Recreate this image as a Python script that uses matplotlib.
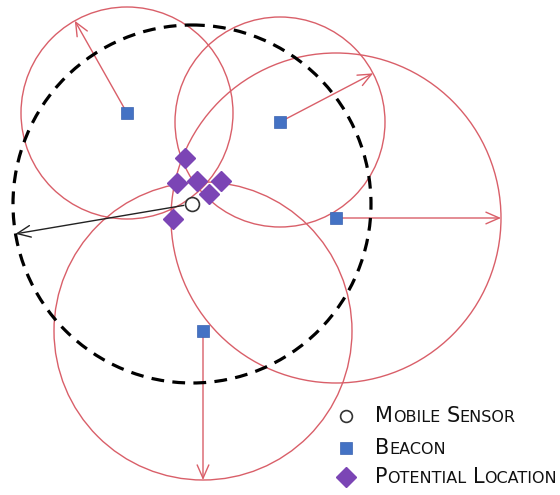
import numpy as np
import matplotlib
matplotlib.use("Agg")
import matplotlib.pyplot as plt
from matplotlib.patches import Circle
from matplotlib.offsetbox import TextArea, HPacker, AnnotationBbox

# beacons (pixel-like coords, y grows downward)
beacon_x = [127, 280, 336, 203]
beacon_y = [113, 122, 218, 331]
beacon_r = [106, 105, 165, 149]
beacon_arrow_deg = [-119.5, -27.6, 0, 90]

# mobile sensor and its estimated range
sensor_x, sensor_y = 192, 204
sensor_r = 179
sensor_arrow_deg = 170.4

# candidate positions
pot_x = [185, 177, 197, 221, 209, 173]
pot_y = [158, 183, 181, 181, 194, 219]

legend_labels = ["Mobile Sensor", "Beacon", "Potential Location"]

RED = "#d95f69"
BLUE = "#4472c4"
PURPLE = "#7b45b5"

fig = plt.figure(figsize=(5.6, 4.95), dpi=100)
ax = fig.add_axes([0, 0, 1, 1])
ax.set_xlim(0, 560)
ax.set_ylim(495, 0)
ax.set_aspect("equal")
ax.axis("off")

for x, y, r, a in zip(beacon_x, beacon_y, beacon_r, beacon_arrow_deg):
    ax.add_patch(Circle((x, y), r, fill=False, ec=RED, lw=1.0, zorder=1))
    t = np.radians(a)
    ax.annotate("", xy=(x + r * np.cos(t), y + r * np.sin(t)), xytext=(x, y),
                arrowprops=dict(arrowstyle="->,head_length=0.8,head_width=0.35",
                                color=RED, lw=1.0, mutation_scale=12,
                                shrinkA=0, shrinkB=0), zorder=2)

ax.add_patch(Circle((sensor_x, sensor_y), sensor_r, fill=False, ec="black",
                    lw=2.3, ls=(0, (4, 2.6)), zorder=3))
t = np.radians(sensor_arrow_deg)
ax.annotate("", xy=(sensor_x + sensor_r * np.cos(t), sensor_y + sensor_r * np.sin(t)),
            xytext=(sensor_x, sensor_y),
            arrowprops=dict(arrowstyle="->,head_length=0.8,head_width=0.35",
                            color="#222222", lw=1.0, mutation_scale=12,
                            shrinkA=6, shrinkB=0), zorder=4)

ax.plot(beacon_x, beacon_y, "s", color=BLUE, ms=9, mec="#3a63b0", mew=0.5,
        ls="none", zorder=5)
ax.plot(pot_x, pot_y, "D", color=PURPLE, ms=10, mec=PURPLE, ls="none", zorder=5)
ax.plot([sensor_x], [sensor_y], "o", mfc="white", mec="#333333", mew=1.2, ms=10,
        zorder=6)


def small_caps(label, big=15, small=11.5):
    words = []
    for w in label.split():
        words.append(HPacker(children=[
            TextArea(w[0], textprops=dict(size=big, color="#111111")),
            TextArea(w[1:].upper(), textprops=dict(size=small, color="#111111")),
        ], align="baseline", pad=0, sep=0))
    return HPacker(children=words, align="baseline", pad=0, sep=4.5)


leg_y = [416, 448, 477]
ax.plot([346], [leg_y[0]], "o", mfc="white", mec="#333333", mew=1.2, ms=8.5)
ax.plot([346], [leg_y[1]], "s", color=BLUE, ms=9, mec="#3a63b0", mew=0.5)
ax.plot([346], [leg_y[2]], "D", color=PURPLE, ms=10, mec=PURPLE)
for lab, y in zip(legend_labels, leg_y):
    ab = AnnotationBbox(small_caps(lab), (375, y), xycoords="data",
                        box_alignment=(0, 0.5), frameon=False, pad=0)
    ax.add_artist(ab)

fig.savefig("out.png", dpi=100)
plt.close()
